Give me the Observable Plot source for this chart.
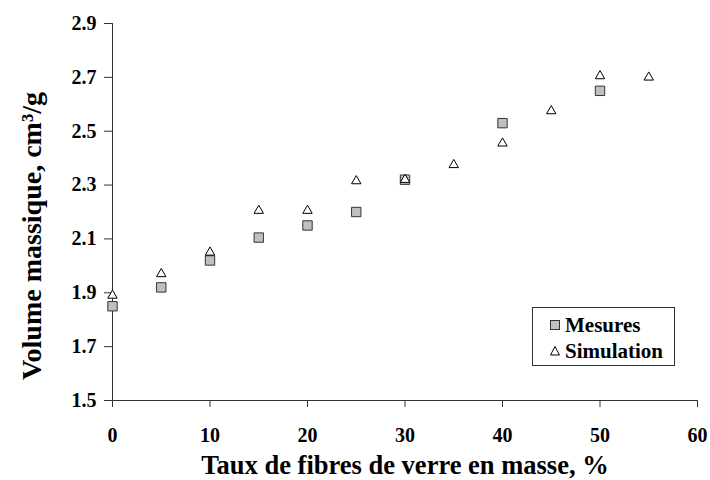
<!DOCTYPE html>
<html><head><meta charset="utf-8">
<script src="https://cdn.jsdelivr.net/npm/d3@7"></script>
<script src="https://cdn.jsdelivr.net/npm/@observablehq/plot@0.6"></script>
<style>
body{margin:0;background:#fff;}
#wrap{position:relative;width:710px;height:480px;font-family:"Liberation Serif","Times New Roman",serif;font-weight:bold;}
#legend{position:absolute;left:532px;top:307px;width:143px;height:59px;border:1px solid #333;box-sizing:border-box;background:#fff;font-size:21px;color:#000;}
#legend .row{position:absolute;left:0;height:24px;line-height:24px;white-space:nowrap;}
#legend svg{position:absolute;left:16px;top:6px;}
#legend span{position:absolute;left:32px;top:0;}
</style>
</head><body>
<div id="wrap"></div>
<script>
const tauxMesures = [0, 5, 10, 15, 20, 25, 30, 40, 50];
const volMesures = [1.85, 1.92, 2.02, 2.105, 2.15, 2.20, 2.32, 2.53, 2.65];
const tauxSimulation = [0, 5, 10, 15, 20, 25, 30, 35, 40, 45, 50, 55];
const volSimulation = [1.89, 1.97, 2.05, 2.205, 2.205, 2.315, 2.32, 2.375, 2.455, 2.575, 2.705, 2.70];
const xTicks = [0, 10, 20, 30, 40, 50, 60];
const yTicks = [1.5, 1.7, 1.9, 2.1, 2.3, 2.5, 2.7, 2.9];
const seriesNames = ["Mesures", "Simulation"];
const xTitle = "Taux de fibres de verre en masse, %";
const yTitle = "Volume massique, cm³/g";

const mesures = tauxMesures.map((t, i) => ({taux: t, vol: volMesures[i]}));
const simulation = tauxSimulation.map((t, i) => ({taux: t, vol: volSimulation[i]}));

const chart = Plot.plot({
  width: 710,
  height: 480,
  marginLeft: 112,
  marginRight: 13,
  marginTop: 23,
  marginBottom: 80,
  style: {fontFamily: '"Liberation Serif","Times New Roman",serif', fontWeight: "bold", fontSize: "20px", color: "#000", background: "#fff", overflow: "visible"},
  x: {domain: [0, 60]},
  y: {domain: [1.5, 2.9]},
  marks: [
    Plot.axisY(yTicks, {tickSize: 8, tickPadding: 8, tickFormat: d3.format(".1f"), label: null, stroke: "#333", fontSize: 20}),
    Plot.axisX(xTicks, {tickSize: 7, tickPadding: 20, tickFormat: d3.format("d"), label: null, stroke: "#333", fontSize: 20}),
    Plot.ruleX([0], {stroke: "#333"}),
    Plot.ruleY([1.5], {stroke: "#333"}),
    Plot.dot(mesures, {x: "taux", y: "vol", symbol: "square", r: 5.3, fill: "#c0c0c0", stroke: "#333", strokeWidth: 1}),
    Plot.dot(simulation, {x: "taux", y: "vol", symbol: "triangle", r: 3.5, fill: "#fff", stroke: "#000", strokeWidth: 1}),
    Plot.text([xTitle], {frameAnchor: "bottom", dy: 65, lineAnchor: "middle", textAnchor: "middle", fontSize: 26.5, fontWeight: "bold"}),
    Plot.text([yTitle], {frameAnchor: "left", dx: -80, dy: 24, rotate: -90, lineAnchor: "middle", textAnchor: "middle", fontSize: 28, fontWeight: "bold"})
  ]
});
const wrap = document.getElementById("wrap");
wrap.appendChild(chart);

const legend = document.createElement("div");
legend.id = "legend";
legend.innerHTML =
  `<div class="row" style="top:5px"><svg width="12" height="12"><rect x="1.5" y="1.5" width="9" height="9" fill="#c0c0c0" stroke="#333"/></svg><span>${seriesNames[0]}</span></div>` +
  `<div class="row" style="top:31px"><svg width="12" height="12"><path d="M6,1.5 L10.5,10 L1.5,10 Z" fill="#fff" stroke="#000"/></svg><span>${seriesNames[1]}</span></div>`;
wrap.appendChild(legend);
</script>
</body></html>
